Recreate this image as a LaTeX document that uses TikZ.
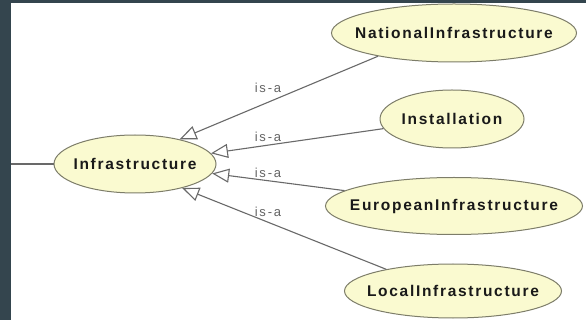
\documentclass[tikz,border=0pt]{standalone}
\usepackage{fontspec}
\setmainfont{Liberation Sans}
\newfontfamily\classfont[LetterSpace=11]{Liberation Sans Bold}
\newfontfamily\relfont[LetterSpace=14]{Liberation Sans}
\usetikzlibrary{shapes.geometric,arrows.meta}
\definecolor{frame}{RGB}{52,69,78}
\definecolor{classfill}{RGB}{250,250,208}
\definecolor{classedge}{RGB}{125,125,105}
\definecolor{edgegray}{RGB}{105,105,105}
\definecolor{labelgray}{RGB}{100,100,100}
\tikzset{
  cls/.style={ellipse, draw=classedge, fill=classfill, line width=1pt, inner sep=0pt},
  clsname/.style={label={[font=\classfont\fontsize{15.5}{16}\selectfont, text=black!90, inner sep=0pt]center:#1}},
  isa/.style={draw=edgegray, line width=1.1pt,
    -{Triangle[open, length=17pt, width=14pt, fill=white]}},
  rellabel/.style={font=\relfont\fontsize{13}{14}\selectfont, text=labelgray, inner sep=0pt}
}
\begin{document}
\begin{tikzpicture}[x=1pt, y=-1pt]
  \useasboundingbox (0,0) rectangle (586,320);
  % dark frame and white canvas
  \fill[frame] (0,0) rectangle (586,320);
  \fill[white] (11,3) rectangle (586,320);

  % classes
  \node[cls, minimum width=162pt, minimum height=58pt, clsname=Infrastructure] (inf) at (135,164) {};
  \node[cls, minimum width=245pt, minimum height=58pt, clsname=NationalInfrastructure] (nat) at (454,33) {};
  \node[cls, minimum width=144pt, minimum height=58pt, clsname=Installation] (ins) at (452,119) {};
  \node[cls, minimum width=257pt, minimum height=57pt, clsname=EuropeanInfrastructure] (eur) at (454,206) {};
  \node[cls, minimum width=217pt, minimum height=54pt, clsname=LocalInfrastructure] (loc) at (453,291) {};

  % link leaving to the left
  \coordinate (out) at (11,164);
  \draw[edgegray, line width=1.1pt] (out) -- (inf.west);

  % subclass relations
  \draw[isa] (nat.197) -- (inf.29);
  \draw[isa] (ins.188) -- (inf.8);
  \draw[isa] (eur.172) -- (inf.-7);
  \draw[isa] (loc.162) -- (inf.-27);

  % relation labels
  \node[rellabel] (l1) at (268,88) {is-a};
  \node[rellabel] (l2) at (268,137) {is-a};
  \node[rellabel] (l3) at (268,173) {is-a};
  \node[rellabel] (l4) at (268,212) {is-a};
\end{tikzpicture}
\end{document}
